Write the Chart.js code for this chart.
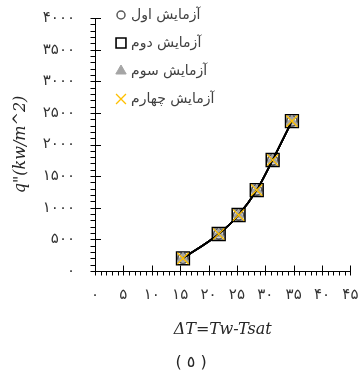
<!DOCTYPE html>
<html>
<head>
<meta charset="utf-8">
<script src="https://cdn.jsdelivr.net/npm/chart.js@4/dist/chart.umd.min.js"></script>
<style>
  html, body { margin: 0; padding: 0; background: #ffffff; }
  #c { display: block; }
</style>
</head>
<body>
<canvas id="c" width="361" height="376"></canvas>
<script>
// Boiling curve: heat flux versus wall superheat for four test runs
const seriesNames = ['آزمایش اول', 'آزمایش دوم', 'آزمایش سوم', 'آزمایش چهارم'];
const deltaT = [15.5, 21.8, 25.3, 28.5, 31.3, 34.7];
const fluxRun1 = [200, 585, 885, 1280, 1755, 2370];
const fluxRun2 = [200, 585, 885, 1280, 1755, 2370];
const fluxRun3 = [200, 585, 885, 1280, 1755, 2370];
const fluxRun4 = [200, 585, 885, 1280, 1755, 2370];
const xTickValues = [0, 5, 10, 15, 20, 25, 30, 35, 40, 45];
const yTickValues = [0, 500, 1000, 1500, 2000, 2500, 3000, 3500, 4000];
const xTitle = 'ΔT=Tw-Tsat';
const yTitle = 'q"(kw/m^2)';
const captionText = '( ٥ )';

const faDigits = '۰۱۲۳۴۵۶۷۸۹';
const toFa = v => String(v).replace(/\d/g, d => faDigits[d]);
const pairs = ys => deltaT.map((x, i) => ({ x: x, y: ys[i] }));

const lineStyle = {
  showLine: true,
  borderColor: '#000000',
  borderWidth: 1.8,
  cubicInterpolationMode: 'monotone'
};

const datasets = [
  Object.assign({}, lineStyle, {
    label: seriesNames[0], data: pairs(fluxRun1), order: 4,
    pointStyle: 'circle', pointRadius: 5, pointBorderWidth: 1.5,
    pointBorderColor: '#595959', pointBackgroundColor: '#ffffff'
  }),
  Object.assign({}, lineStyle, {
    label: seriesNames[1], data: pairs(fluxRun2), order: 3,
    pointStyle: 'rect', pointRadius: 9, pointBorderWidth: 1.6,
    pointBorderColor: '#000000', pointBackgroundColor: 'rgba(0,0,0,0)'
  }),
  Object.assign({}, lineStyle, {
    label: seriesNames[2], data: pairs(fluxRun3), order: 2,
    pointStyle: 'triangle', pointRadius: 6, pointBorderWidth: 1,
    pointBorderColor: '#a5a5a5', pointBackgroundColor: '#a5a5a5'
  }),
  Object.assign({}, lineStyle, {
    label: seriesNames[3], data: pairs(fluxRun4), order: 1,
    pointStyle: 'crossRot', pointRadius: 8, pointBorderWidth: 1.3,
    pointBorderColor: '#ffc000', pointBackgroundColor: '#ffc000'
  })
];

// Major ticks cross the axis, minor ticks sit outside it
const axisTicks = {
  id: 'axisTicks',
  beforeDatasetsDraw(chart) {
    const { ctx, scales: { x, y } } = chart;
    const ya = y.getPixelForValue(0);
    const xa = x.getPixelForValue(0);
    ctx.save();
    ctx.strokeStyle = '#000000';
    ctx.lineWidth = 1;
    ctx.beginPath();
    for (let v = x.min; v <= x.max; v += 1) {
      const px = Math.round(x.getPixelForValue(v)) + 0.5;
      const major = v % 5 === 0;
      ctx.moveTo(px, ya + 4.5);
      ctx.lineTo(px, major ? ya - 5.5 : ya);
    }
    for (let v = y.min; v <= y.max; v += 100) {
      const py = Math.round(y.getPixelForValue(v)) + 0.5;
      const major = v % 500 === 0;
      ctx.moveTo(xa - 4.5, py);
      ctx.lineTo(major ? xa + 6 : xa, py);
    }
    ctx.stroke();
    ctx.restore();
  }
};

// Series key drawn inside the plot at the upper left
const insideLegend = {
  id: 'insideLegend',
  afterDraw(chart) {
    const { ctx } = chart;
    const legendSizes = [4, 7, 6, 7];
    ctx.save();
    chart.data.datasets.forEach((ds, i) => {
      const cx = 121, cy = 15 + i * 28;
      ctx.fillStyle = ds.pointBackgroundColor;
      ctx.strokeStyle = ds.pointBorderColor;
      ctx.lineWidth = ds.pointBorderWidth;
      Chart.helpers.drawPoint(ctx, {
        pointStyle: ds.pointStyle,
        radius: legendSizes[i],
        rotation: 0,
        borderWidth: ds.pointBorderWidth
      }, cx, cy);
      ctx.fillStyle = '#404040';
      ctx.font = '14px "DejaVu Sans"';
      ctx.textAlign = 'left';
      ctx.textBaseline = 'middle';
      ctx.fillText(ds.label, 131, cy);
    });
    ctx.restore();
  }
};

// Figure number under the axis title
const caption = {
  id: 'caption',
  afterDraw(chart) {
    const { ctx } = chart;
    ctx.save();
    ctx.fillStyle = '#262626';
    ctx.font = '16px "DejaVu Sans"';
    ctx.textAlign = 'center';
    ctx.textBaseline = 'middle';
    ctx.fillText(captionText, 191, 363);
    ctx.restore();
  }
};

const tickFont = { family: 'DejaVu Sans', size: 15 };
const titleFont = { family: 'DejaVu Serif', style: 'italic', size: 16 };

new Chart(document.getElementById('c'), {
  type: 'scatter',
  data: { datasets: datasets },
  options: {
    responsive: false,
    devicePixelRatio: 1,
    animation: false,
    layout: { padding: { top: 18, right: 9, left: 0, bottom: 0 } },
    plugins: {
      legend: { display: false },
      tooltip: { enabled: false }
    },
    scales: {
      x: {
        type: 'linear',
        min: 0,
        max: 45,
        afterBuildTicks: s => { s.ticks = xTickValues.map(v => ({ value: v })); },
        afterFit: s => { s.height = 105; s.paddingLeft = 0; s.paddingRight = 0; },
        grid: { display: false, drawTicks: false },
        border: { display: true, color: '#000000', width: 1 },
        ticks: {
          callback: v => toFa(v), font: tickFont, color: '#333333',
          padding: 15, maxRotation: 0, autoSkip: false
        },
        title: {
          display: true, text: xTitle, font: titleFont, color: '#262626',
          padding: { top: 0, bottom: 37 }
        }
      },
      y: {
        type: 'linear',
        min: 0,
        max: 4000,
        afterBuildTicks: s => { s.ticks = yTickValues.map(v => ({ value: v })); },
        afterFit: s => { s.width = 95; s.paddingTop = 0; s.paddingBottom = 0; },
        grid: { display: false, drawTicks: false },
        border: { display: true, color: '#000000', width: 1 },
        ticks: {
          callback: v => toFa(v), font: tickFont, color: '#333333',
          padding: 20, autoSkip: false
        },
        title: {
          display: true, text: yTitle, font: titleFont, color: '#262626',
          padding: { top: 11, bottom: 0 }
        }
      }
    }
  },
  plugins: [axisTicks, insideLegend, caption]
});
</script>
</body>
</html>
